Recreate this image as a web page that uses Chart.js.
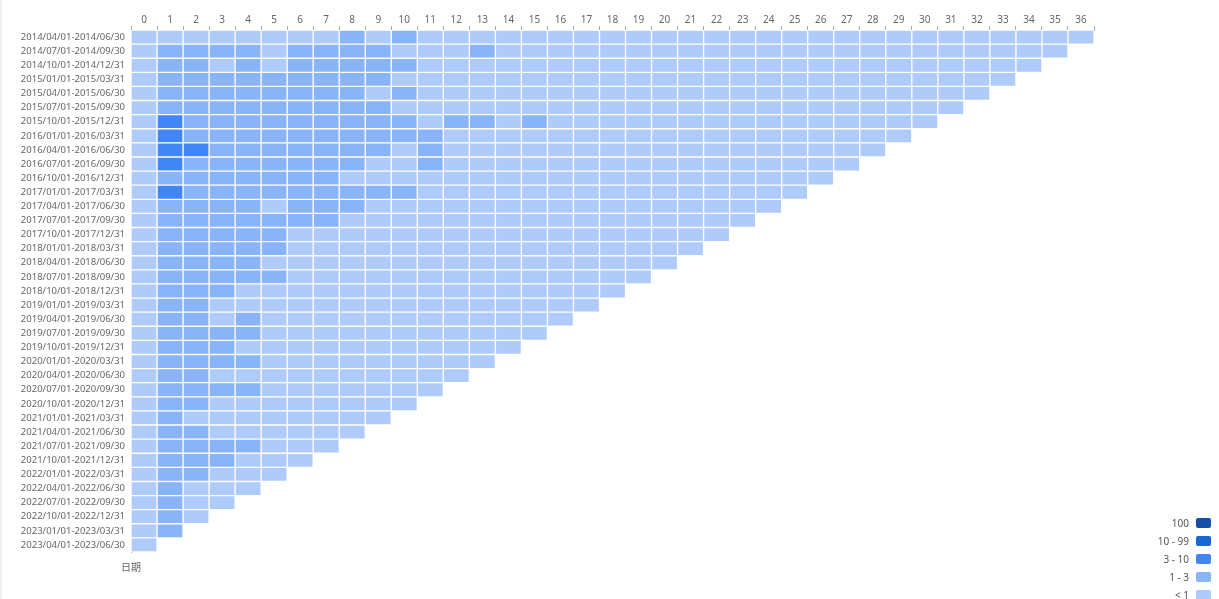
<!DOCTYPE html>
<html>
<head>
<meta charset="utf-8">
<title>Cohort heatmap</title>
<script src="https://cdn.jsdelivr.net/npm/chart.js@4.4.0/dist/chart.umd.min.js"></script>
<style>
    html, body { margin: 0; padding: 0; background: #fff; }
    body { width: 1219px; height: 599px; position: relative; overflow: hidden; font-family: 'Noto Sans', 'Noto Sans CJK SC', sans-serif; }
    #edge { position: absolute; left: 0; top: 0; width: 2px; height: 599px; background: #f0f0f0; }
    #axisTitle { position: absolute; left: 111px; top: 560px; width: 40px; text-align: center; font-size: 10px; line-height: 14px; color: #666; font-family: 'Noto Sans CJK SC', 'Noto Sans', sans-serif; }
    #legend { position: absolute; right: 8px; top: 514px; }
    .legend-item { display: flex; justify-content: flex-end; align-items: center; height: 18px; font-size: 10px; color: #555; }
    .legend-box { width: 15px; height: 10px; border-radius: 2px; margin-left: 7px; }
</style>
</head>
<body>
<div id="edge"></div>
<canvas id="cohortChart" width="1219" height="599"></canvas>
<div id="axisTitle">日期</div>
<div id="legend"></div>

<script>
// Cohort rows (quarters) and period columns
const rowLabels = [
    '2014/04/01-2014/06/30', '2014/07/01-2014/09/30', '2014/10/01-2014/12/31',
    '2015/01/01-2015/03/31', '2015/04/01-2015/06/30', '2015/07/01-2015/09/30', '2015/10/01-2015/12/31',
    '2016/01/01-2016/03/31', '2016/04/01-2016/06/30', '2016/07/01-2016/09/30', '2016/10/01-2016/12/31',
    '2017/01/01-2017/03/31', '2017/04/01-2017/06/30', '2017/07/01-2017/09/30', '2017/10/01-2017/12/31',
    '2018/01/01-2018/03/31', '2018/04/01-2018/06/30', '2018/07/01-2018/09/30', '2018/10/01-2018/12/31',
    '2019/01/01-2019/03/31', '2019/04/01-2019/06/30', '2019/07/01-2019/09/30', '2019/10/01-2019/12/31',
    '2020/01/01-2020/03/31', '2020/04/01-2020/06/30', '2020/07/01-2020/09/30', '2020/10/01-2020/12/31',
    '2021/01/01-2021/03/31', '2021/04/01-2021/06/30', '2021/07/01-2021/09/30', '2021/10/01-2021/12/31',
    '2022/01/01-2022/03/31', '2022/04/01-2022/06/30', '2022/07/01-2022/09/30', '2022/10/01-2022/12/31',
    '2023/01/01-2023/03/31', '2023/04/01-2023/06/30'
];

const colLabels = [
    '0', '1', '2', '3', '4', '5', '6', '7', '8', '9', '10', '11', '12', '13', '14', '15', '16', '17', '18',
    '19', '20', '21', '22', '23', '24', '25', '26', '27', '28', '29', '30', '31', '32', '33', '34', '35', '36'
];

// Legend buckets
const bucketLabels = ['100', '10 - 99', '3 - 10', '1 - 3', '< 1'];
const bucketMins = [100, 10, 3, 1, 0];
const bucketColors = ['#174ea6', '#1967d2', '#4285f4', '#8ab4f8', '#aecbfa'];

// Values per cohort row (one entry per period)
const cohortValues = [
    [0.5,0.5,0.5,0.5,0.5, 0.5,0.5,0.5,2,0.5, 2,0.5,0.5,0.5,0.5, 0.5,0.5,0.5,0.5,0.5, 0.5,0.5,0.5,0.5,0.5, 0.5,0.5,0.5,0.5,0.5, 0.5,0.5,0.5,0.5,0.5, 0.5,0.5],
    [0.5,2,2,2,2, 0.5,2,2,2,2, 0.5,0.5,0.5,2,0.5, 0.5,0.5,0.5,0.5,0.5, 0.5,0.5,0.5,0.5,0.5, 0.5,0.5,0.5,0.5,0.5, 0.5,0.5,0.5,0.5,0.5, 0.5],
    [0.5,2,2,0.5,2, 0.5,2,2,2,2, 2,0.5,0.5,0.5,0.5, 0.5,0.5,0.5,0.5,0.5, 0.5,0.5,0.5,0.5,0.5, 0.5,0.5,0.5,0.5,0.5, 0.5,0.5,0.5,0.5,0.5],
    [0.5,2,2,2,2, 2,2,2,2,2, 0.5,0.5,0.5,0.5,0.5, 0.5,0.5,0.5,0.5,0.5, 0.5,0.5,0.5,0.5,0.5, 0.5,0.5,0.5,0.5,0.5, 0.5,0.5,0.5,0.5],
    [0.5,2,2,2,2, 2,2,2,2,0.5, 2,0.5,0.5,0.5,0.5, 0.5,0.5,0.5,0.5,0.5, 0.5,0.5,0.5,0.5,0.5, 0.5,0.5,0.5,0.5,0.5, 0.5,0.5,0.5],
    [0.5,2,2,2,2, 2,2,2,2,2, 0.5,0.5,0.5,0.5,0.5, 0.5,0.5,0.5,0.5,0.5, 0.5,0.5,0.5,0.5,0.5, 0.5,0.5,0.5,0.5,0.5, 0.5,0.5],
    [0.5,5,2,2,2, 2,2,2,2,2, 2,0.5,2,2,0.5, 2,0.5,0.5,0.5,0.5, 0.5,0.5,0.5,0.5,0.5, 0.5,0.5,0.5,0.5,0.5, 0.5],
    [0.5,5,2,2,2, 2,2,2,2,2, 2,2,0.5,0.5,0.5, 0.5,0.5,0.5,0.5,0.5, 0.5,0.5,0.5,0.5,0.5, 0.5,0.5,0.5,0.5,0.5],
    [0.5,5,5,2,2, 2,2,2,2,2, 0.5,2,0.5,0.5,0.5, 0.5,0.5,0.5,0.5,0.5, 0.5,0.5,0.5,0.5,0.5, 0.5,0.5,0.5,0.5],
    [0.5,5,2,2,2, 2,2,2,2,0.5, 0.5,2,0.5,0.5,0.5, 0.5,0.5,0.5,0.5,0.5, 0.5,0.5,0.5,0.5,0.5, 0.5,0.5,0.5],
    [0.5,2,2,2,2, 2,2,2,0.5,0.5, 0.5,0.5,0.5,0.5,0.5, 0.5,0.5,0.5,0.5,0.5, 0.5,0.5,0.5,0.5,0.5, 0.5,0.5],
    [0.5,5,2,2,2, 2,2,2,2,2, 2,0.5,0.5,0.5,0.5, 0.5,0.5,0.5,0.5,0.5, 0.5,0.5,0.5,0.5,0.5, 0.5],
    [0.5,2,2,2,2, 0.5,2,2,2,0.5, 0.5,0.5,0.5,0.5,0.5, 0.5,0.5,0.5,0.5,0.5, 0.5,0.5,0.5,0.5,0.5],
    [0.5,2,2,2,2, 2,2,2,0.5,0.5, 0.5,0.5,0.5,0.5,0.5, 0.5,0.5,0.5,0.5,0.5, 0.5,0.5,0.5,0.5],
    [0.5,2,2,2,2, 2,0.5,0.5,0.5,0.5, 0.5,0.5,0.5,0.5,0.5, 0.5,0.5,0.5,0.5,0.5, 0.5,0.5,0.5],
    [0.5,2,2,2,2, 2,0.5,0.5,0.5,0.5, 0.5,0.5,0.5,0.5,0.5, 0.5,0.5,0.5,0.5,0.5, 0.5,0.5],
    [0.5,2,2,2,2, 0.5,0.5,0.5,0.5,0.5, 0.5,0.5,0.5,0.5,0.5, 0.5,0.5,0.5,0.5,0.5, 0.5],
    [0.5,2,2,2,2, 2,0.5,0.5,0.5,0.5, 0.5,0.5,0.5,0.5,0.5, 0.5,0.5,0.5,0.5,0.5],
    [0.5,2,2,2,0.5, 0.5,0.5,0.5,0.5,0.5, 0.5,0.5,0.5,0.5,0.5, 0.5,0.5,0.5,0.5],
    [0.5,2,2,0.5,0.5, 0.5,0.5,0.5,0.5,0.5, 0.5,0.5,0.5,0.5,0.5, 0.5,0.5,0.5],
    [0.5,2,2,0.5,2, 0.5,0.5,0.5,0.5,0.5, 0.5,0.5,0.5,0.5,0.5, 0.5,0.5],
    [0.5,2,2,2,2, 0.5,0.5,0.5,0.5,0.5, 0.5,0.5,0.5,0.5,0.5, 0.5],
    [0.5,2,2,2,0.5, 0.5,0.5,0.5,0.5,0.5, 0.5,0.5,0.5,0.5,0.5],
    [0.5,2,2,2,2, 0.5,0.5,0.5,0.5,0.5, 0.5,0.5,0.5,0.5],
    [0.5,2,2,0.5,0.5, 0.5,0.5,0.5,0.5,0.5, 0.5,0.5,0.5],
    [0.5,2,2,2,2, 0.5,0.5,0.5,0.5,0.5, 0.5,0.5],
    [0.5,2,2,0.5,0.5, 0.5,0.5,0.5,0.5,0.5, 0.5],
    [0.5,2,0.5,0.5,0.5, 0.5,0.5,0.5,0.5,0.5],
    [0.5,2,2,0.5,0.5, 0.5,0.5,0.5,0.5],
    [0.5,2,2,2,2, 0.5,0.5,0.5],
    [0.5,2,2,2,0.5, 0.5,0.5],
    [0.5,2,2,0.5,0.5, 0.5],
    [0.5,2,0.5,0.5,0.5],
    [0.5,2,0.5,0.5],
    [0.5,2,0.5],
    [0.5,2],
    [0.5]
];

const fontFamily = "'Noto Sans', 'Noto Sans CJK SC', sans-serif";

// Pick the legend bucket colour for a value
function colorFor(value) {
    for (let k = 0; k < bucketMins.length; k++) {
        if (value >= bucketMins[k]) return bucketColors[k];
    }
    return bucketColors[bucketColors.length - 1];
}

// One floating-bar dataset per period column
const datasets = colLabels.map((col, j) => ({
    label: col,
    data: cohortValues.map(row => (j < row.length ? [j, j + 1] : null)),
    backgroundColor: ctx => {
        const row = cohortValues[ctx.dataIndex];
        return row && j < row.length ? colorFor(row[j]) : bucketColors[4];
    },
    borderColor: '#ffffff',
    borderWidth: 1,
    borderSkipped: false,
    barPercentage: 1,
    categoryPercentage: 1,
    grouped: false
}));

const ctx = document.getElementById('cohortChart');
const cohortChart = new Chart(ctx, {
    type: 'bar',
    data: {
        labels: rowLabels,
        datasets: datasets
    },
    options: {
        indexAxis: 'y',
        responsive: false,
        animation: false,
        devicePixelRatio: 1,
        layout: {
            padding: { top: 14, right: 125, bottom: 47, left: 0 }
        },
        plugins: {
            legend: { display: false },
            tooltip: {
                callbacks: {
                    label: item => rowLabels[item.dataIndex] + ' / ' + item.dataset.label + ': ' + cohortValues[item.dataIndex][item.datasetIndex]
                }
            }
        },
        scales: {
            x: {
                type: 'linear',
                display: false,
                min: 0,
                max: colLabels.length
            },
            x2: {
                type: 'category',
                position: 'top',
                labels: colLabels,
                offset: true,
                grid: {
                    offset: true,
                    drawOnChartArea: false,
                    tickLength: 4,
                    color: '#aaaaaa'
                },
                border: { color: '#aaaaaa' },
                ticks: {
                    color: '#666666',
                    padding: 0,
                    autoSkip: false,
                    maxRotation: 0,
                    font: { family: fontFamily, size: 10 }
                }
            },
            y: {
                type: 'category',
                labels: rowLabels,
                offset: true,
                grid: { display: false, drawTicks: false },
                border: { display: true, color: '#aaaaaa' },
                ticks: {
                    color: '#666666',
                    padding: 6,
                    autoSkip: false,
                    font: { family: fontFamily, size: 9.5 }
                },
                afterFit: scale => { scale.width = 131; }
            }
        }
    }
});

// Legend built from the bucket arrays
const legendEl = document.getElementById('legend');
bucketLabels.forEach((label, k) => {
    const item = document.createElement('div');
    item.className = 'legend-item';
    item.innerHTML = `<span>${label}</span><span class="legend-box" style="background:${bucketColors[k]}"></span>`;
    legendEl.appendChild(item);
});
</script>
</body>
</html>
